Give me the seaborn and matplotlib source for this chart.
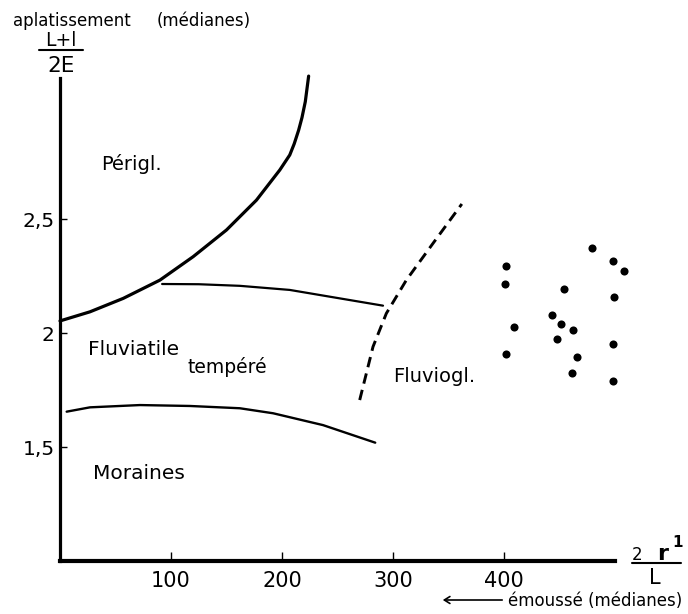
import matplotlib
matplotlib.use("Agg")
import matplotlib.pyplot as plt
from matplotlib.lines import Line2D
import numpy as np
import pandas as pd
import seaborn as sns

# ---------------- data ----------------
perigl_x = [0, 27, 57, 90, 120, 150, 177, 198, 207, 211, 215, 218, 221, 224]
perigl_y = [2.053, 2.093, 2.152, 2.232, 2.335, 2.452, 2.583, 2.715, 2.781, 2.830,
            2.890, 2.945, 3.015, 3.127]

fluv_top_x = [92, 125, 162, 207, 252, 291]
fluv_top_y = [2.215, 2.214, 2.207, 2.189, 2.152, 2.120]

moraine_x = [6, 27, 72, 117, 162, 192, 237, 284]
moraine_y = [1.655, 1.674, 1.684, 1.680, 1.670, 1.648, 1.596, 1.519]

fluviogl_x = [270, 282, 294, 312, 336, 362]
fluviogl_y = [1.706, 1.940, 2.086, 2.232, 2.393, 2.566]

dots_x = [402, 401, 409, 402, 454, 443, 451, 462, 448, 466, 461, 479, 498, 508, 499, 498, 498]
dots_y = [2.294, 2.215, 2.026, 1.908, 2.193, 2.079, 2.039, 2.013, 1.974, 1.895, 1.825,
          2.374, 2.317, 2.271, 2.157, 1.950, 1.789]

x_ticks = [100, 200, 300, 400]
x_tick_labels = ["100", "200", "300", "400"]
y_ticks = [1.5, 2.0, 2.5]
y_tick_labels = ["1,5", "2", "2,5"]

region_labels = ["Périgl.", "Fluviatile", "tempéré", "Moraines", "Fluviogl."]
region_x = [37, 25, 115, 30, 300]
region_y = [2.715, 1.904, 1.825, 1.36, 1.785]
region_size = [14, 14.5, 13.5, 14.5, 14]

# ---------------- figure ----------------
sns.set_theme(style="white")
plt.rcParams["font.family"] = ["DejaVu Sans"]
plt.rcParams["text.color"] = "black"

W, H = 688, 614
fig = plt.figure(figsize=(W / 100, H / 100), dpi=100)
fig.patch.set_facecolor("white")
ax = fig.add_axes([60 / W, 53 / H, 577.2 / W, 485.6 / H])
ax.set_facecolor("white")


def P(px, py):
    return px / W, 1 - py / H


sns.lineplot(x=perigl_x, y=perigl_y, ax=ax, color="black", lw=2.3,
             sort=False, estimator=None, clip_on=False)
sns.lineplot(x=fluv_top_x, y=fluv_top_y, ax=ax, color="black", lw=1.6,
             sort=False, estimator=None, clip_on=False)
sns.lineplot(x=moraine_x, y=moraine_y, ax=ax, color="black", lw=1.7,
             sort=False, estimator=None, clip_on=False)
sns.lineplot(x=fluviogl_x, y=fluviogl_y, ax=ax, color="black", lw=2.1,
             sort=False, estimator=None, clip_on=False)
ax.lines[-1].set_linestyle((0, (3.6, 2.2)))
ax.lines[-1].set_dash_capstyle("butt")
for ln in ax.lines:
    ln.set_solid_joinstyle("round")

sns.scatterplot(x=dots_x, y=dots_y, ax=ax, color="black", s=34,
                linewidth=0, clip_on=False)

ax.set_xlim(0, 520)
ax.set_ylim(1.0, 3.13)
ax.set_xticks(x_ticks)
ax.set_xticklabels(x_tick_labels)
ax.set_yticks(y_ticks)
ax.set_yticklabels(y_tick_labels)
ax.tick_params(axis="x", direction="in", length=6.5, width=1, pad=7,
               labelsize=15, colors="black", bottom=True)
ax.tick_params(axis="y", direction="in", length=5, width=1, pad=4,
               labelsize=14.5, colors="black", left=True)
ax.grid(False)
for s in ["top", "right"]:
    ax.spines[s].set_visible(False)
ax.spines["bottom"].set_linewidth(3)
ax.spines["bottom"].set_color("black")
ax.spines["bottom"].set_bounds(0, 500)
ax.spines["left"].set_linewidth(2.3)
ax.spines["left"].set_color("black")
ax.spines["left"].set_bounds(1.0, 3.118)

for lab, x, y, fs in zip(region_labels, region_x, region_y, region_size):
    ax.text(x, y, lab, fontsize=fs, ha="left", va="baseline", color="black")

# y-axis title
fig.text(*P(13, 26), "aplatissement", fontsize=12, ha="left", va="baseline", color="black")
fig.text(*P(157, 26), "(médianes)", fontsize=12, ha="left", va="baseline", color="black")
fig.text(*P(61, 46), "L+l", fontsize=13.5, ha="center", va="baseline", color="black")
fig.add_artist(Line2D([39 / W, 83 / W], [1 - 50 / H, 1 - 50 / H],
                      transform=fig.transFigure, color="black", lw=1.5))
fig.text(*P(61, 72), "2E", fontsize=15.5, ha="center", va="baseline", color="black")

# x-axis title
fig.text(*P(632, 560), "2", fontsize=12, ha="left", va="baseline", color="black")
fig.text(*P(657, 560), "r", fontsize=16, fontweight="bold", ha="left", va="baseline", color="black")
fig.text(*P(672, 547), "1", fontsize=11, fontweight="bold", ha="left", va="baseline", color="black")
fig.add_artist(Line2D([632 / W, 681 / W], [1 - 563 / H, 1 - 563 / H],
                      transform=fig.transFigure, color="black", lw=1.5))
fig.text(*P(655, 584), "L", fontsize=15, ha="center", va="baseline", color="black")

fig.text(*P(508, 606), "émoussé (médianes)", fontsize=12, ha="left", va="baseline", color="black")
fig.add_artist(matplotlib.patches.FancyArrowPatch(
    P(505, 600), P(440, 600), transform=fig.transFigure,
    arrowstyle="->,head_length=4,head_width=2.5", color="black", lw=1.2))

fig.savefig("out.png", dpi=100, facecolor="white")
